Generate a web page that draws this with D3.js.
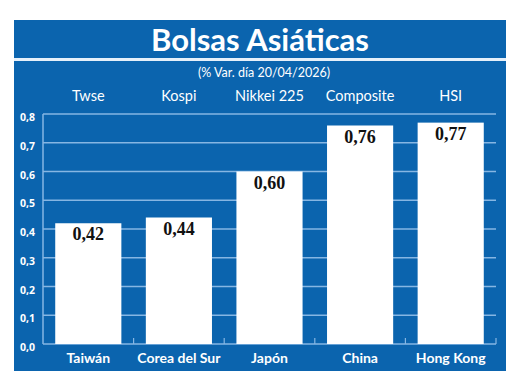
<!DOCTYPE html>
<html><head><meta charset="utf-8">
<script src="https://cdn.jsdelivr.net/npm/d3@7"></script>
<style>html,body{margin:0;padding:0;background:#fff;}svg{display:block;}</style>
</head><body>
<svg id="chart" width="520" height="387"></svg>
<script>
const countries = ["Taiwán", "Corea del Sur", "Japón", "China", "Hong Kong"];
const indices = ["Twse", "Kospi", "Nikkei 225", "Composite", "HSI"];
const values = [0.42, 0.44, 0.60, 0.76, 0.77];
const valueLabels = ["0,42", "0,44", "0,60", "0,76", "0,77"];
const yTicks = [0, 0.1, 0.2, 0.3, 0.4, 0.5, 0.6, 0.7, 0.8];
const yTickLabels = ["0,0", "0,1", "0,2", "0,3", "0,4", "0,5", "0,6", "0,7", "0,8"];
const title = "Bolsas Asiáticas";
const subtitle = "(% Var. día  20/04/2026)";

const blue = "#0b64ae", grid = "#86b6e3";
const svg = d3.select("#chart");
const font = "'Open Sans', sans-serif";

svg.append("rect").attr("x", 14).attr("y", 20).attr("width", 492).attr("height", 351).attr("fill", blue);
svg.append("rect").attr("x", 14).attr("y", 58).attr("width", 492).attr("height", 3).attr("fill", "#e6f0fa");

svg.append("text").attr("x", 260).attr("y", 51).attr("text-anchor", "middle")
  .attr("fill", "#fff").attr("font-family", "Lato, sans-serif").attr("font-weight", "bold")
  .attr("font-size", 31).text(title);
svg.append("text").attr("x", 264).attr("y", 77).attr("text-anchor", "middle")
  .attr("fill", "#fff").attr("font-family", "Lato, sans-serif").attr("font-size", 12.5).text(subtitle);

const x = d3.scaleBand().domain(countries).range([43, 496]).paddingInner(0.27).paddingOuter(0.135);
const xb = d3.scaleBand().domain(countries).range([43, 496]);
const y = d3.scaleLinear().domain([0, 0.8]).range([344, 114]);

// gridlines
svg.append("g").selectAll("line").data(yTicks.slice(1)).join("line")
  .attr("x1", 43).attr("x2", 496).attr("y1", d => y(d)).attr("y2", d => y(d))
  .attr("stroke", grid).attr("stroke-width", 1.5);

// y axis line
svg.append("line").attr("x1", 43).attr("x2", 43).attr("y1", y(0.8)).attr("y2", y(0))
  .attr("stroke", grid).attr("stroke-width", 1.5);
// x axis baseline and category ticks
svg.append("line").attr("x1", 43).attr("x2", 496).attr("y1", y(0)).attr("y2", y(0))
  .attr("stroke", grid).attr("stroke-width", 1.5);
svg.append("g").selectAll("line").data(countries).join("line")
  .attr("x1", d => xb(d) + xb.bandwidth()).attr("x2", d => xb(d) + xb.bandwidth())
  .attr("y1", y(0)).attr("y2", y(0) - 6).attr("stroke", grid).attr("stroke-width", 1.2);

// y tick labels
svg.append("g").selectAll("text").data(yTicks).join("text")
  .attr("x", 35).attr("y", d => y(d) + 7).attr("text-anchor", "end")
  .attr("fill", "#fff").attr("font-family", font).attr("font-weight", "bold").attr("font-size", 10.5)
  .text((d, i) => yTickLabels[i]);

// bars
svg.append("g").selectAll("rect").data(values).join("rect")
  .attr("x", (d, i) => x(countries[i])).attr("width", x.bandwidth())
  .attr("y", d => y(d)).attr("height", d => y(0) - y(d)).attr("fill", "#fff");

// value labels
svg.append("g").selectAll("text").data(values).join("text")
  .attr("x", (d, i) => x(countries[i]) + x.bandwidth() / 2).attr("y", d => y(d) + 17)
  .attr("text-anchor", "middle").attr("fill", "#111")
  .attr("font-family", "'Liberation Serif', serif").attr("font-weight", "bold").attr("font-size", 18)
  .text((d, i) => valueLabels[i]);

// top index labels
svg.append("g").selectAll("text").data(indices).join("text")
  .attr("x", (d, i) => xb(countries[i]) + xb.bandwidth() / 2).attr("y", 101)
  .attr("text-anchor", "middle").attr("fill", "#fff").attr("font-family", "Lato, sans-serif")
  .attr("font-size", 14.5).text(d => d);

// bottom country labels
svg.append("g").selectAll("text").data(countries).join("text")
  .attr("x", d => xb(d) + xb.bandwidth() / 2).attr("y", 363)
  .attr("text-anchor", "middle").attr("fill", "#fff").attr("font-family", "Lato, sans-serif")
  .attr("font-weight", "bold").attr("font-size", 14).text(d => d);
</script>
</body></html>
